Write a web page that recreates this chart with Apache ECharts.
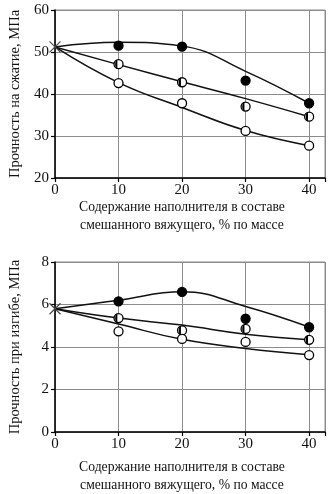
<!DOCTYPE html>
<html>
<head>
<meta charset="utf-8">
<script src="https://cdn.jsdelivr.net/npm/echarts@6/dist/echarts.min.js"></script>
<style>
  html, body { margin: 0; padding: 0; background: #fff; }
  #chart { width: 329px; height: 494px; }
</style>
</head>
<body>
<div id="chart"></div>
<script>
// Filler content, % by mass of the blended binder
const pointX = [10, 20, 30, 40];
const curveX = [0, 10, 20, 30, 40];
const startX = 0;

// Compressive strength, MPa
const compStart = 51.2;
const compFilled = [51.5, 51.3, 43.2, 37.8];
const compHalf = [47.1, 42.8, 37.0, 34.6];
const compOpen = [42.6, 37.8, 31.2, 27.7];
const compCurveFilled = [51.2, 52.3, 51.4, 45.4, 37.8];
const compCurveHalf = [51.2, 47.0, 42.9, 38.9, 34.6];
const compCurveOpen = [51.2, 42.7, 36.8, 31.3, 27.7];

// Bending strength, MPa
const bendStart = 5.8;
const bendFilled = [6.15, 6.59, 5.33, 4.93];
const bendHalf = [5.36, 4.78, 4.85, 4.34];
const bendOpen = [4.74, 4.38, 4.24, 3.62];
const bendCurveFilled = [5.8, 6.2, 6.6, 5.91, 4.94];
const bendCurveHalf = [5.8, 5.36, 5.03, 4.6, 4.34];
const bendCurveOpen = [5.8, 5.08, 4.36, 3.93, 3.64];

// Axis settings
const xMin = 0, xMax = 42.5, xStep = 10;
const compMin = 20, compMax = 60, compStep = 10;
const bendMin = 0, bendMax = 8, bendStep = 2;

const xTitle = 'Содержание наполнителя в составе\nсмешанного вяжущего, % по массе';
const compTitle = 'Прочность на сжатие, МПа';
const bendTitle = 'Прочность при изгибе, МПа';

const FONT = '"Liberation Serif", "DejaVu Serif", serif';
const GRID_GRAY = '#8c8c8c';

const pairs = (xs, ys) => xs.map((x, i) => [x, ys[i]]);

function xAxisFor(idx) {
  return {
    type: 'value', gridIndex: idx, min: xMin, max: xMax, interval: xStep,
    axisLine: { show: true, onZero: false, lineStyle: { color: '#000', width: 1.5 } },
    axisTick: { show: true, length: 4, lineStyle: { color: '#000', width: 1.2 } },
    axisLabel: { color: '#111', fontFamily: FONT, fontSize: 15, margin: 5,
      formatter: v => (v > 40 ? '' : String(v)) },
    splitLine: { show: true, lineStyle: { color: GRID_GRAY, width: 1 } }
  };
}

function yAxisFor(idx, min, max, step, name) {
  return {
    type: 'value', gridIndex: idx, min: min, max: max, interval: step,
    name: name, nameLocation: 'middle', nameRotate: 90, nameGap: 32,
    nameTextStyle: { color: '#111', fontFamily: FONT, fontSize: 14.5 },
    axisLine: { show: true, onZero: false, lineStyle: { color: '#000', width: 1.5 } },
    axisTick: { show: true, length: 4, lineStyle: { color: '#000', width: 1.2 } },
    axisLabel: { color: '#111', fontFamily: FONT, fontSize: 15, margin: 6 },
    splitLine: { show: true, lineStyle: { color: GRID_GRAY, width: 1 } }
  };
}

function curve(idx, ys) {
  return {
    type: 'line', xAxisIndex: idx, yAxisIndex: idx, data: pairs(curveX, ys),
    smooth: 0.45, showSymbol: false, symbol: 'none', silent: true, z: 3,
    lineStyle: { color: '#111', width: 1.5 }
  };
}

function dots(idx, ys, fill) {
  return {
    type: 'scatter', xAxisIndex: idx, yAxisIndex: idx, data: pairs(pointX, ys),
    symbol: 'circle', symbolSize: 9, z: 5,
    itemStyle: { color: fill, borderColor: '#000', borderWidth: 1.3, opacity: 1 }
  };
}

// left half of a circle, filled black, laid over an open circle
function halfDots(idx, ys) {
  return {
    type: 'scatter', xAxisIndex: idx, yAxisIndex: idx, data: pairs(pointX, ys),
    symbol: 'path://M10,0 A10,10 0 0,0 10,20 Z', symbolKeepAspect: true,
    symbolSize: [4.5, 9], symbolOffset: [-2.25, 0], z: 6,
    itemStyle: { color: '#000', opacity: 1 }
  };
}

function cross(idx, y) {
  return {
    type: 'scatter', xAxisIndex: idx, yAxisIndex: idx, data: [[startX, y]],
    symbol: 'path://M0,0 L10,10 M10,0 L0,10', symbolSize: 11, z: 7,
    itemStyle: { color: 'none', borderColor: '#444', borderWidth: 1.1, opacity: 1 }
  };
}

function xTitleText(top) {
  return {
    type: 'text', x: 182, y: top, scaleX: 0.91, silent: true,
    style: { text: xTitle, fontFamily: FONT, fontSize: 15, lineHeight: 18,
      align: 'center', verticalAlign: 'top', fill: '#111' }
  };
}

const chart = echarts.init(document.getElementById('chart'), null, { renderer: 'canvas' });

chart.setOption({
  animation: false,
  backgroundColor: '#fff',
  grid: [
    { left: 51, top: 10, width: 274, height: 168, show: true, borderColor: GRID_GRAY, borderWidth: 1 },
    { left: 51, top: 262, width: 274, height: 170, show: true, borderColor: GRID_GRAY, borderWidth: 1 }
  ],
  xAxis: [xAxisFor(0), xAxisFor(1)],
  yAxis: [
    yAxisFor(0, compMin, compMax, compStep, compTitle),
    yAxisFor(1, bendMin, bendMax, bendStep, bendTitle)
  ],
  graphic: [xTitleText(198), xTitleText(458)],
  series: [
    curve(0, compCurveFilled), curve(0, compCurveHalf), curve(0, compCurveOpen),
    dots(0, compFilled, '#000'), dots(0, compHalf, '#fff'), halfDots(0, compHalf), dots(0, compOpen, '#fff'),
    cross(0, compStart),
    curve(1, bendCurveFilled), curve(1, bendCurveHalf), curve(1, bendCurveOpen),
    dots(1, bendFilled, '#000'), dots(1, bendHalf, '#fff'), halfDots(1, bendHalf), dots(1, bendOpen, '#fff'),
    cross(1, bendStart)
  ]
});
</script>
</body>
</html>
